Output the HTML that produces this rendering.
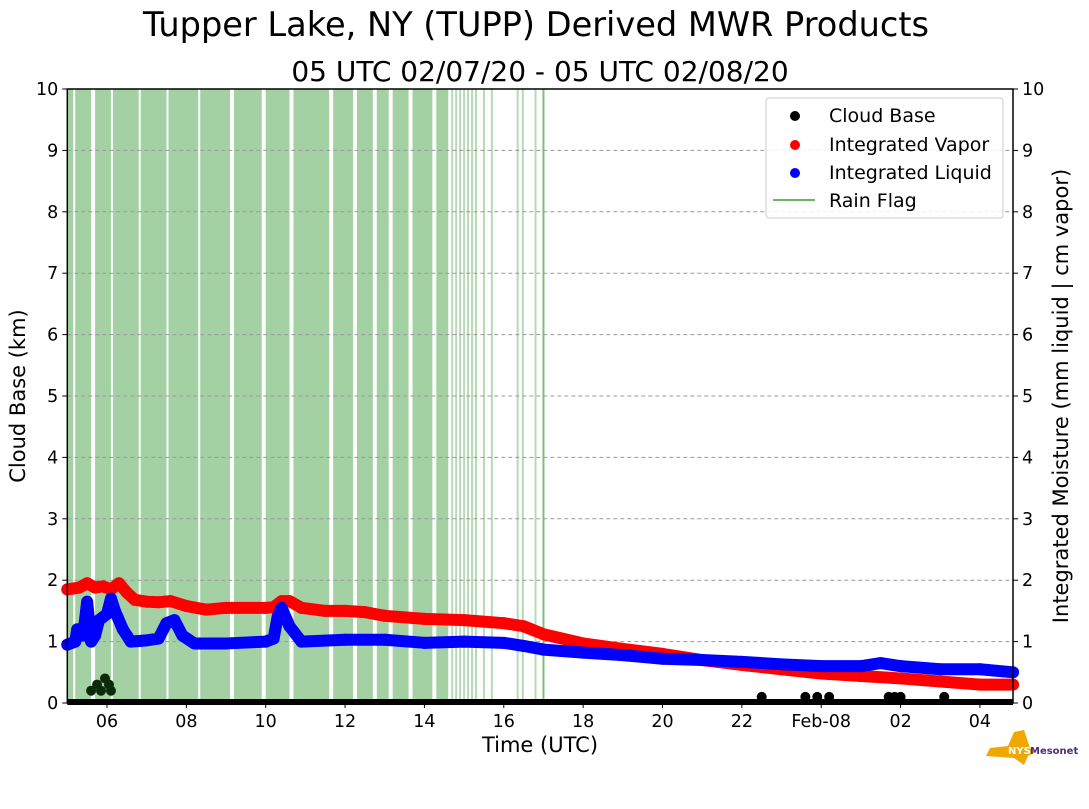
<!DOCTYPE html>
<html><head><meta charset="utf-8"><style>
body{margin:0;background:#fff;width:1089px;height:804px;overflow:hidden;font-family:"Liberation Sans","DejaVu Sans",sans-serif;}
svg text{font-family:"DejaVu Sans","Liberation Sans",sans-serif;}
</style></head><body>
<svg id="chart" width="1089" height="804" xmlns="http://www.w3.org/2000/svg">
<text x="536" y="36" font-size="33.6" text-anchor="middle">Tupper Lake, NY (TUPP) Derived MWR Products</text>
<text x="540" y="81" font-size="28" text-anchor="middle">05 UTC 02/07/20 - 05 UTC 02/08/20</text>
<g id="rain"></g>
<g id="grid"></g>
<g id="series"></g>
<g id="axes"></g>
<text x="540" y="752" font-size="21" text-anchor="middle">Time (UTC)</text>
<text transform="translate(25,396) rotate(-90)" font-size="21" text-anchor="middle">Cloud Base (km)</text>
<text transform="translate(1068,396) rotate(-90)" font-size="21" text-anchor="middle">Integrated Moisture (mm liquid | cm vapor)</text>
<g>
<rect x="766" y="98" width="237" height="120" fill="#fff" fill-opacity="0.85" stroke="#ccc" rx="3"/>
<circle cx="795" cy="116" r="5" fill="#000"/>
<text x="829" y="122" font-size="19">Cloud Base</text>
<circle cx="795" cy="145" r="5" fill="#f00"/>
<text x="829" y="151" font-size="19">Integrated Vapor</text>
<circle cx="795" cy="173" r="5" fill="#00f"/>
<text x="829" y="179" font-size="19">Integrated Liquid</text>
<line x1="773" y1="200" x2="815" y2="200" stroke="#6cb56c" stroke-width="2"/>
<text x="829" y="207" font-size="19">Rain Flag</text>
</g>
<g>
<path d="M990 748 L1008 746 L1014 732 L1024 730 L1030 748 L1036 752 L1028 756 L1024 765 L1014 758 L986 756 Z" fill="#f0a800"/>
<text x="1008" y="754" font-size="10" font-weight="bold" fill="#fff">NYS</text>
<text x="1030" y="754" font-size="10" font-weight="bold" fill="#4b2d7f">Mesonet</text>
</g>
</svg>
<script>
const hours = [0,0.3,0.5,0.7,0.9,1.1,1.3,1.5,1.7,2,2.3,2.6,3,3.5,4,5,5.2,5.4,5.6,5.9,6.5,7,7.5,8,9,10,11,11.5,12,13,14,15,16,17,18,19,20,21,22,23,24];
const vapor = [1.85,1.88,1.95,1.88,1.9,1.85,1.95,1.8,1.68,1.65,1.64,1.66,1.58,1.52,1.55,1.55,1.56,1.66,1.66,1.55,1.5,1.5,1.48,1.42,1.37,1.35,1.3,1.25,1.12,0.97,0.88,0.8,0.7,0.62,0.55,0.48,0.44,0.4,0.35,0.3,0.3];
const liqHours = [0,0.2,0.25,0.4,0.5,0.6,0.7,0.8,1.0,1.1,1.2,1.4,1.6,2,2.3,2.5,2.7,2.9,3.2,4,5,5.2,5.3,5.4,5.6,5.9,7,8,9,10,11,11.5,12,13,14,15,16,17,18,19,20,20.5,21,22,23,24];
const liquid = [0.95,1.0,1.2,1.1,1.65,1.0,1.1,1.35,1.45,1.7,1.5,1.2,1.0,1.02,1.05,1.3,1.35,1.1,0.97,0.97,1.0,1.05,1.4,1.55,1.25,1.0,1.03,1.03,0.98,1.0,0.98,0.93,0.87,0.82,0.78,0.72,0.7,0.67,0.63,0.6,0.6,0.65,0.6,0.55,0.55,0.5];
const cbHours = [0.6,0.75,0.85,0.95,1.05,1.1,17.5,18.6,18.9,19.2,20.7,20.85,21.0,22.1];
const cbVals = [0.2,0.3,0.2,0.4,0.3,0.2,0.1,0.1,0.1,0.1,0.1,0.1,0.1,0.1];
const rainBlocks = [[0,0.15],[0.2,0.6],[0.7,1.1],[1.15,1.8],[1.85,2.5],[2.55,3.3],[3.35,4.1],[4.2,4.9],[5.0,5.6],[5.7,6.6],[6.7,7.2],[7.3,7.7],[7.8,8.1],[8.2,8.6],[8.7,9.2],[9.3,9.6]];
const rainTimes = [9.7,9.8,9.9,10.0,10.1,10.2,10.3,10.5,10.7,11.35,11.48,11.8,12.0];
const yTicks = [0,1,2,3,4,5,6,7,8,9,10];
const xTickHours = [1,3,5,7,9,11,13,15,17,19,21,23];
const xTickLabels = ["06","08","10","12","14","16","18","20","22","Feb-08","02","04"];

const NS="http://www.w3.org/2000/svg";
const X0=67.3,X1=1013,PXH=39.68,Y0=703,Y1=89;
const xs=h=>Math.min(X1,X0+h*PXH);
const ys=v=>Y0-v*(Y0-Y1)/10;
function mk(tag,attrs,parent){const e=document.createElementNS(NS,tag);for(const k in attrs)e.setAttribute(k,attrs[k]);parent.appendChild(e);return e;}
const rain=document.getElementById('rain'),grid=document.getElementById('grid'),ser=document.getElementById('series'),axes=document.getElementById('axes');
rainBlocks.forEach(b=>{const r=mk('rect',{x:xs(b[0]),y:Y1,width:xs(b[1])-xs(b[0]),height:Y0-Y1,fill:'#a3d1a3'},rain);

});
rainTimes.forEach(t=>{const l=mk('line',{x1:xs(t),x2:xs(t),y1:Y1,y2:Y0,stroke:t===12?'#7cbf7c':'#b5dab5','stroke-width':2},rain);

});
yTicks.forEach(v=>{if(v>0&&v<10){const g=mk('line',{x1:X0,x2:X1,y1:ys(v),y2:ys(v),stroke:'#999','stroke-dasharray':'4,3','stroke-width':1},grid);

}});
function series(hh,vv,color,name){
 const pts=hh.map((h,i)=>xs(h)+','+ys(vv[i])).join(' ');
 const p=mk('polyline',{points:pts,fill:'none',stroke:color,'stroke-width':12,'stroke-linejoin':'round','stroke-linecap':'round'},ser);
 
 
 hh.forEach((h,i)=>{const c=mk('circle',{cx:xs(h),cy:ys(vv[i]),r:6,fill:color},ser);
 
 });
}
series(hours,vapor,'#f00','vapor');
series(liqHours,liquid,'#00f','liquid');
const zl=mk('line',{x1:X0,x2:X1,y1:Y0-1,y2:Y0-1,stroke:'#000','stroke-width':6},ser);


cbHours.forEach((h,i)=>{const c=mk('circle',{cx:xs(h),cy:ys(cbVals[i]),r:5,fill:h<5?'#0a2a0a':'#000'},ser);

});
const fr=mk('rect',{x:X0,y:Y1,width:X1-X0,height:Y0-Y1,fill:'none',stroke:'#000','stroke-width':1.5},axes);


yTicks.forEach(v=>{
 mk('line',{x1:X0-5,x2:X0,y1:ys(v),y2:ys(v),stroke:'#000'},axes);
 mk('line',{x1:X1,x2:X1+5,y1:ys(v),y2:ys(v),stroke:'#000'},axes);
 const a=mk('text',{x:X0-9,y:ys(v)+6,'font-size':17.5,'text-anchor':'end'},axes);a.textContent=v;
 
 
 const b=mk('text',{x:X1+9,y:ys(v)+6,'font-size':17.5},axes);b.textContent=v;
 
 
});
xTickHours.forEach((h,i)=>{
 mk('line',{x1:xs(h),x2:xs(h),y1:Y0,y2:Y0+5,stroke:'#000'},axes);
 const t=mk('text',{x:xs(h),y:Y0+24,'font-size':17.5,'text-anchor':'middle'},axes);t.textContent=xTickLabels[i];
 
 
});
</script>
</body></html>
